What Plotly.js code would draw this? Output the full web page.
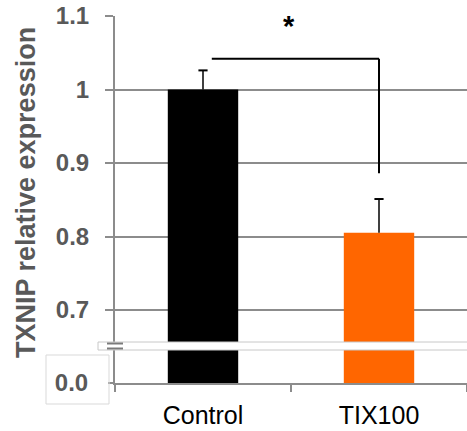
<!DOCTYPE html>
<html>
<head>
<meta charset="utf-8">
<script src="https://cdn.plot.ly/plotly-3.0.1.min.js"></script>
<style>html,body{margin:0;padding:0;background:#fff;}#chart{width:467px;height:431px;}</style>
</head>
<body>
<div id="chart"></div>
<script>
// ---- data ----
const categories = ["Control", "TIX100"];
const values = [1.0, 0.805];
const errUp = [0.026, 0.046];
const barColors = ["#000000", "#FF6600"];
const upperTickVals = [0.7, 0.8, 0.9, 1.0, 1.1];
const upperTickText = ["0.7", "0.8", "0.9", "1", "1.1"];
const lowerTickVals = [0];
const lowerTickText = ["0.0"];
const upperRange = [0.6565, 1.1];
const lowerRange = [0, 0.0449];
const bracketX = [0.05, 1.0];
const bracketY = [1.042, 0.886];
const starPos = {x: 0.49, y: 1.086};
const yTitle = "TXNIP relative expression";

const gridGray = "#8c8c8c";
const labelGray = "#595959";
const FONT = "Liberation Sans, Arial, sans-serif";

const traces = [
  {
    type: "bar", x: categories, y: values, xaxis: "x", yaxis: "y",
    marker: {color: barColors, line: {width: 0}}, width: 0.4,
    hoverinfo: "none"
  },
  {
    type: "bar", x: categories, y: values, xaxis: "x", yaxis: "y2",
    marker: {color: barColors, line: {width: 0}}, width: 0.4,
    hoverinfo: "none"
  }
];

const H = 367; // plot height in px
const tickFontY = {family: FONT, size: 24, color: labelGray, weight: "bold"};

// upper-only error bars, built from the data arrays (category index i on the x axis)
const capHalf = 0.026;
const errShapes = [];
values.forEach((v, i) => {
  errShapes.push({type: "line", xref: "x", yref: "y", x0: i, x1: i, y0: v, y1: v + errUp[i],
                  line: {color: "#000", width: 1.5}, layer: "above"});
  errShapes.push({type: "line", xref: "x", yref: "y", x0: i - capHalf, x1: i + capHalf,
                  y0: v + errUp[i], y1: v + errUp[i], line: {color: "#000", width: 2}, layer: "above"});
});

const layout = {
  width: 467, height: 431,
  margin: {l: 115, r: 0, t: 16, b: 48},
  paper_bgcolor: "#fff", plot_bgcolor: "#fff",
  showlegend: false,
  xaxis: {
    type: "category", range: [-0.5, 1.5], anchor: "y2",
    tickson: "boundaries", ticks: "outside", ticklen: 7, tickwidth: 2, tickcolor: gridGray,
    showline: true, linecolor: gridGray, linewidth: 2, showgrid: false,
    tickfont: {family: FONT, size: 25, color: "#000"},
    ticklabelstandoff: 9
  },
  yaxis: {
    domain: [41 / H, 1], range: upperRange, anchor: "x",
    tickvals: upperTickVals, ticktext: upperTickText,
    showgrid: true, gridcolor: gridGray, gridwidth: 2, zeroline: false,
    ticks: "outside", ticklen: 8, tickwidth: 2, tickcolor: gridGray,
    showline: true, linecolor: gridGray, linewidth: 2,
    tickfont: tickFontY, ticklabelstandoff: 11
  },
  yaxis2: {
    domain: [0, 33 / H], range: lowerRange, anchor: "x",
    tickvals: lowerTickVals, ticktext: lowerTickText,
    showgrid: false, zeroline: false,
    ticks: "outside", ticklen: 5, tickwidth: 2, tickcolor: gridGray,
    showline: true, linecolor: gridGray, linewidth: 2,
    tickfont: tickFontY, ticklabelstandoff: 15
  },
  shapes: [
    ...errShapes,
    // significance bracket
    {type: "line", xref: "x", yref: "y", x0: bracketX[0], x1: bracketX[1], y0: bracketY[0], y1: bracketY[0],
     line: {color: "#000", width: 2}},
    {type: "line", xref: "x", yref: "y", x0: bracketX[1], x1: bracketX[1], y0: bracketY[0], y1: bracketY[1],
     line: {color: "#000", width: 2}},
    // axis break band
    {type: "rect", xref: "paper", yref: "paper", x0: -17 / 352, x1: 1.01, y0: 33 / H, y1: 41 / H,
     fillcolor: "#fff", line: {color: "#c8c8c8", width: 1}, layer: "above"},
    // break marks
    {type: "line", xref: "paper", yref: "paper", x0: -8 / 352, x1: 8 / 352, y0: 39.5 / H, y1: 39.5 / H,
     line: {color: "#7a7a7a", width: 2}, layer: "above"},
    {type: "line", xref: "paper", yref: "paper", x0: -8 / 352, x1: 8 / 352, y0: 34.5 / H, y1: 34.5 / H,
     line: {color: "#7a7a7a", width: 2}, layer: "above"},
    // box round 0.0 label
    {type: "rect", xref: "paper", yref: "paper", x0: -69 / 352, x1: -6 / 352, y0: 28 / H, y1: -21 / H,
     fillcolor: "rgba(0,0,0,0)", line: {color: "#d9d9d9", width: 1}, layer: "above"}
  ],
  annotations: [
    {text: "*", xref: "x", yref: "y", x: starPos.x, y: starPos.y, showarrow: false,
     xanchor: "center", yanchor: "middle",
     font: {family: FONT, size: 29, color: "#000", weight: "bold"}},
    {text: yTitle, xref: "paper", yref: "paper", x: (26 - 115) / 352, y: (383 - 193) / H,
     xanchor: "center", yanchor: "middle", textangle: -90, showarrow: false,
     font: {family: FONT, size: 27, color: labelGray, weight: "bold"}}
  ]
};

Plotly.newPlot("chart", traces, layout, {staticPlot: true, displayModeBar: false});
</script>
</body>
</html>
